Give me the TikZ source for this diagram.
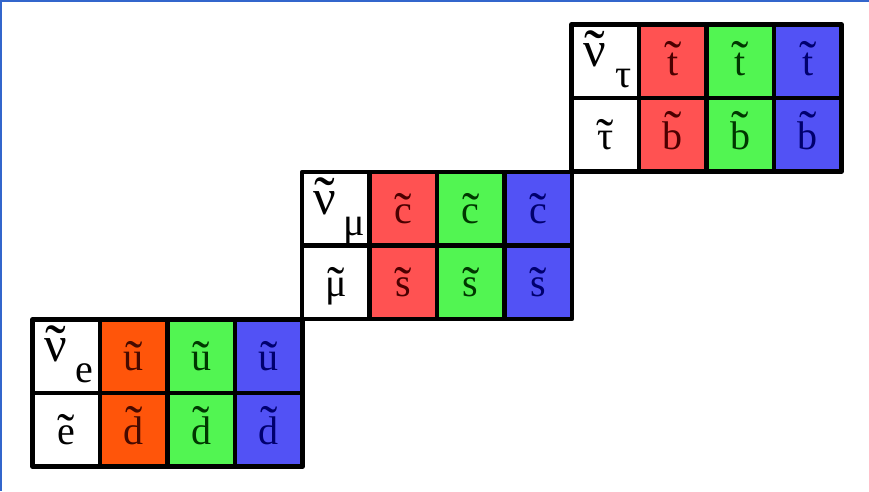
\documentclass[tikz,border=0pt]{standalone}
\usepackage{fontspec}
\setmainfont{Liberation Serif}
\usetikzlibrary{calc}

\definecolor{frameblue}{RGB}{51,102,204}
\definecolor{sqred}{RGB}{255,82,82}
\definecolor{sqorange}{RGB}{255,85,10}
\definecolor{sqgreen}{RGB}{82,245,82}
\definecolor{sqblue}{RGB}{82,82,245}
\definecolor{txred}{RGB}{75,0,0}
\definecolor{txorange}{RGB}{70,10,0}
\definecolor{txgreen}{RGB}{0,55,0}
\definecolor{txblue}{RGB}{0,0,110}

% fonts for the tildes, a little larger than the letters below them
\font\tilfnt="Liberation Serif" at 52pt
\font\tilbigfnt="Liberation Serif" at 62pt
% superpartner: letter with a tilde on top
\newcommand\sq[1]{\edef\sqcur{\the\font}\tilfnt\accent"02DC \sqcur #1}
\newcommand\sqbig[1]{\edef\sqcur{\the\font}\tilbigfnt\accent"02DC \sqcur #1}

\begin{document}
\begin{tikzpicture}[x=1pt,y=-1pt,
  cell/.style={draw=black,line width=4.5pt,line join=round,
    minimum width=67.5pt,minimum height=73.5pt,
    inner sep=0pt,outer sep=0pt,anchor=north west},
  lbl/.style={anchor=base,inner sep=0pt,font=\fontsize{40}{44}\selectfont},
  big/.style={lbl,font=\fontsize{50}{54}\selectfont},
  sub/.style={lbl,font=\fontsize{40}{44}\selectfont}]
\useasboundingbox (0,0) rectangle (869,491);
\fill[white] (0,0) rectangle (869,491);
\fill[frameblue] (0,0) rectangle (869,2);
\fill[frameblue] (0,0) rectangle (1.5,491);

\foreach \k/\sub/\rc/\rt/\up/\dn in
  {0/e/sqorange/txorange/u/d, 1/μ/sqred/txred/c/s, 2/τ/sqred/txred/t/b}{
  \pgfmathsetmacro\L{32.5+269.5*\k}
  \pgfmathsetmacro\T{319.5-147.5*\k}
  % lepton column
  \node[cell,fill=white] (n\k) at (\L,\T) {};
  \node[cell,fill=white] (l\k) at (\L,{\T+73.5}) {};
  % squark columns, one per colour
  \node[cell,fill=\rc]     (ur\k) at ({\L+67.5},\T) {};
  \node[cell,fill=\rc]     (dr\k) at ({\L+67.5},{\T+73.5}) {};
  \node[cell,fill=sqgreen] (ug\k) at ({\L+135},\T) {};
  \node[cell,fill=sqgreen] (dg\k) at ({\L+135},{\T+73.5}) {};
  \node[cell,fill=sqblue]  (ub\k) at ({\L+202.5},\T) {};
  \node[cell,fill=sqblue]  (db\k) at ({\L+202.5},{\T+73.5}) {};
  % labels
  \node[big] (nt\k) at ($(n\k.north west)+(23,42)$) {\sqbig{ν}};
  \node[sub] (ns\k) at ($(n\k.north west)+(52,63)$) {\sub};
  \node[lbl] (lt\k) at ($(l\k.north)+(0,51)$) {\sq{\sub}};
  \node[lbl,text=\rt]     (urt\k) at ($(ur\k.north)+(0,51)$) {\sq{\up}};
  \node[lbl,text=\rt]     (drt\k) at ($(dr\k.north)+(0,51)$) {\sq{\dn}};
  \node[lbl,text=txgreen] (ugt\k) at ($(ug\k.north)+(0,51)$) {\sq{\up}};
  \node[lbl,text=txgreen] (dgt\k) at ($(dg\k.north)+(0,51)$) {\sq{\dn}};
  \node[lbl,text=txblue]  (ubt\k) at ($(ub\k.north)+(0,51)$) {\sq{\up}};
  \node[lbl,text=txblue]  (dbt\k) at ($(db\k.north)+(0,51)$) {\sq{\dn}};
}
\end{tikzpicture}
\end{document}
